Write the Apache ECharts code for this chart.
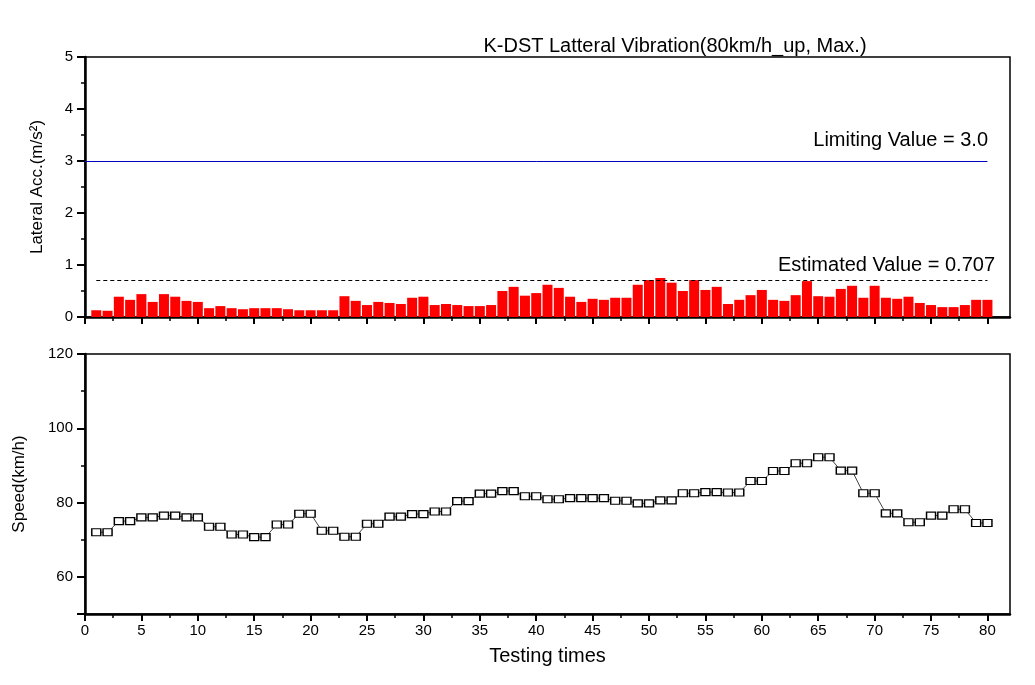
<!DOCTYPE html>
<html>
<head>
<meta charset="utf-8">
<script src="https://cdn.jsdelivr.net/npm/echarts@6/dist/echarts.min.js"></script>
<style>html,body{margin:0;padding:0;background:#fff;}#c{width:1035px;height:685px;}</style>
</head>
<body>
<div id="c"></div>
<script>
// ---- data ----
var testNo = [1,2,3,4,5,6,7,8,9,10,11,12,13,14,15,16,17,18,19,20,21,22,23,24,25,26,27,28,29,30,31,32,33,34,35,36,37,38,39,40,41,42,43,44,45,46,47,48,49,50,51,52,53,54,55,56,57,58,59,60,61,62,63,64,65,66,67,68,69,70,71,72,73,74,75,76,77,78,79,80];
var lateralAcc = [0.13,0.12,0.39,0.33,0.44,0.29,0.44,0.39,0.31,0.29,
  0.17,0.21,0.17,0.15,0.17,0.17,0.17,0.15,0.13,0.13,
  0.13,0.13,0.40,0.31,0.23,0.29,0.27,0.25,0.37,0.39,
  0.23,0.25,0.23,0.21,0.21,0.23,0.50,0.58,0.41,0.46,
  0.62,0.56,0.39,0.29,0.35,0.33,0.37,0.37,0.62,0.71,
  0.75,0.66,0.50,0.71,0.52,0.58,0.25,0.33,0.42,0.52,
  0.33,0.31,0.42,0.69,0.40,0.39,0.54,0.60,0.37,0.60,
  0.37,0.35,0.39,0.27,0.23,0.19,0.19,0.23,0.33,0.33];
var speed = [72,72,75,75,76,76,76.5,76.5,76,76,
  73.5,73.5,71.4,71.4,70.7,70.7,74.1,74.1,77,77,
  72.4,72.4,70.8,70.8,74.3,74.3,76.2,76.2,76.9,76.9,
  77.6,77.6,80.4,80.4,82.4,82.4,83.1,83.1,81.7,81.7,
  80.9,80.9,81.2,81.2,81.2,81.2,80.5,80.5,79.8,79.8,
  80.6,80.6,82.5,82.5,82.8,82.8,82.7,82.7,85.8,85.8,
  88.5,88.5,90.6,90.6,92.2,92.2,88.6,88.6,82.5,82.5,
  77.1,77.1,74.7,74.7,76.5,76.5,78.2,78.2,74.5,74.5];
var limitValue = 3.0, limitFrom = 0, limitTo = 80;
var estValue = 0.707, estFrom = 1, estTo = 80;
var xMajorTicks = [0,5,10,15,20,25,30,35,40,45,50,55,60,65,70,75,80];
var xMinorTicks = [2.5,7.5,12.5,17.5,22.5,27.5,32.5,37.5,42.5,47.5,52.5,57.5,62.5,67.5,72.5,77.5];
var speedMajorTicks = [50,60,80,100,120];
var speedLabels = [60,80,100,120];
var speedMinorTicks = [70,90,110];
var titleText = 'K-DST Latteral Vibration(80km/h_up, Max.)';
var limitText = 'Limiting Value = 3.0';
var estText = 'Estimated Value = 0.707';

// ---- chart ----
var FONT = "Arial, 'Liberation Sans', sans-serif";
var chart = echarts.init(document.getElementById('c'), null, {renderer: 'canvas'});

function xMajor(grid, labels) {
  return {
    type: 'value', gridIndex: grid, position: 'bottom', min: 0, max: 82, interval: 5,
    axisLine: {show: true, onZero: false, lineStyle: {color: '#000', width: 2.5}},
    axisTick: {show: true, customValues: xMajorTicks, length: 7, lineStyle: {color: '#000', width: 2}},
    axisLabel: labels ? {show: true, customValues: xMajorTicks, color: '#000', fontSize: 15, fontFamily: FONT, margin: 9} : {show: false},
    splitLine: {show: false},
    name: labels ? 'Testing times' : '',
    nameLocation: 'middle', nameGap: 32,
    nameTextStyle: {color: '#000', fontSize: 20, fontFamily: FONT}
  };
}
function xMinor(grid) {
  return {
    type: 'value', gridIndex: grid, position: 'bottom', min: 0, max: 82,
    axisLine: {show: false, onZero: false},
    axisTick: {show: true, customValues: xMinorTicks, length: 4, lineStyle: {color: '#000', width: 1.5}},
    axisLabel: {show: false}, splitLine: {show: false}
  };
}

var option = {
  backgroundColor: '#fff',
  animation: false,
  title: {
    text: titleText, left: 670, top: 31, textAlign: 'center',
    textStyle: {color: '#000', fontSize: 20, fontWeight: 'normal', fontFamily: FONT}
  },
  grid: [
    {left: 85, right: 25, top: 57, height: 260, show: true, borderColor: '#000', borderWidth: 1.5, backgroundColor: 'transparent'},
    {left: 85, right: 25, top: 354, height: 260, show: true, borderColor: '#000', borderWidth: 1.5, backgroundColor: 'transparent'}
  ],
  xAxis: [xMajor(0, false), xMinor(0), xMajor(1, true), xMinor(1)],
  yAxis: [
    {
      type: 'value', gridIndex: 0, position: 'left', min: 0, max: 5, interval: 1,
      axisLine: {show: true, onZero: false, lineStyle: {color: '#000', width: 2.5}},
      axisTick: {show: true, length: 8, lineStyle: {color: '#000', width: 2}},
      minorTick: {show: true, splitNumber: 2, length: 4, lineStyle: {color: '#000', width: 1.5}},
      axisLabel: {color: '#000', fontSize: 15, fontFamily: FONT, margin: 12},
      splitLine: {show: false},
      name: 'Lateral Acc.(m/s²)', nameLocation: 'middle', nameGap: 39,
      nameTextStyle: {color: '#000', fontSize: 17, fontFamily: FONT}
    },
    {
      type: 'value', gridIndex: 1, position: 'left', min: 50, max: 120, interval: 10,
      axisLine: {show: true, onZero: false, lineStyle: {color: '#000', width: 2.5}},
      axisTick: {show: true, customValues: speedMajorTicks, length: 8, lineStyle: {color: '#000', width: 2}},
      axisLabel: {customValues: speedLabels, color: '#000', fontSize: 15, fontFamily: FONT, margin: 12},
      splitLine: {show: false},
      name: 'Speed(km/h)', nameLocation: 'middle', nameGap: 57,
      nameTextStyle: {color: '#000', fontSize: 17, fontFamily: FONT}
    },
    {
      type: 'value', gridIndex: 1, position: 'left', offset: 0, min: 50, max: 120, interval: 10,
      axisLine: {show: false, onZero: false},
      axisTick: {show: true, customValues: speedMinorTicks, length: 4, lineStyle: {color: '#000', width: 1.5}},
      axisLabel: {show: false}, splitLine: {show: false}
    }
  ],
  graphic: [
    {type: 'text', x: 988, y: 140, style: {text: limitText, fill: '#000', font: '20px ' + FONT, textAlign: 'right', textVerticalAlign: 'middle'}},
    {type: 'text', x: 995, y: 265, style: {text: estText, fill: '#000', font: '20px ' + FONT, textAlign: 'right', textVerticalAlign: 'middle'}}
  ],
  series: [
    {
      type: 'bar', xAxisIndex: 0, yAxisIndex: 0, barWidth: 10,
      itemStyle: {color: '#ff0000'},
      data: testNo.map(function (t, i) { return [t, lateralAcc[i]]; }),
      markLine: {
        silent: true, symbol: ['none', 'none'], label: {show: false},
        data: [
          [{coord: [limitFrom, limitValue], lineStyle: {color: '#0000c0', width: 1, type: 'solid'}}, {coord: [limitTo, limitValue]}],
          [{coord: [estFrom, estValue], lineStyle: {color: '#000', width: 1, type: [4, 3]}}, {coord: [estTo, estValue]}]
        ]
      }
    },
    {
      type: 'line', xAxisIndex: 2, yAxisIndex: 1,
      symbol: 'rect', symbolSize: [9, 7], showAllSymbol: true,
      lineStyle: {color: '#444', width: 1},
      itemStyle: {color: '#fff', borderColor: '#000', borderWidth: 1.3},
      data: testNo.map(function (t, i) { return [t, speed[i]]; })
    }
  ]
};
chart.setOption(option);
</script>
</body>
</html>
